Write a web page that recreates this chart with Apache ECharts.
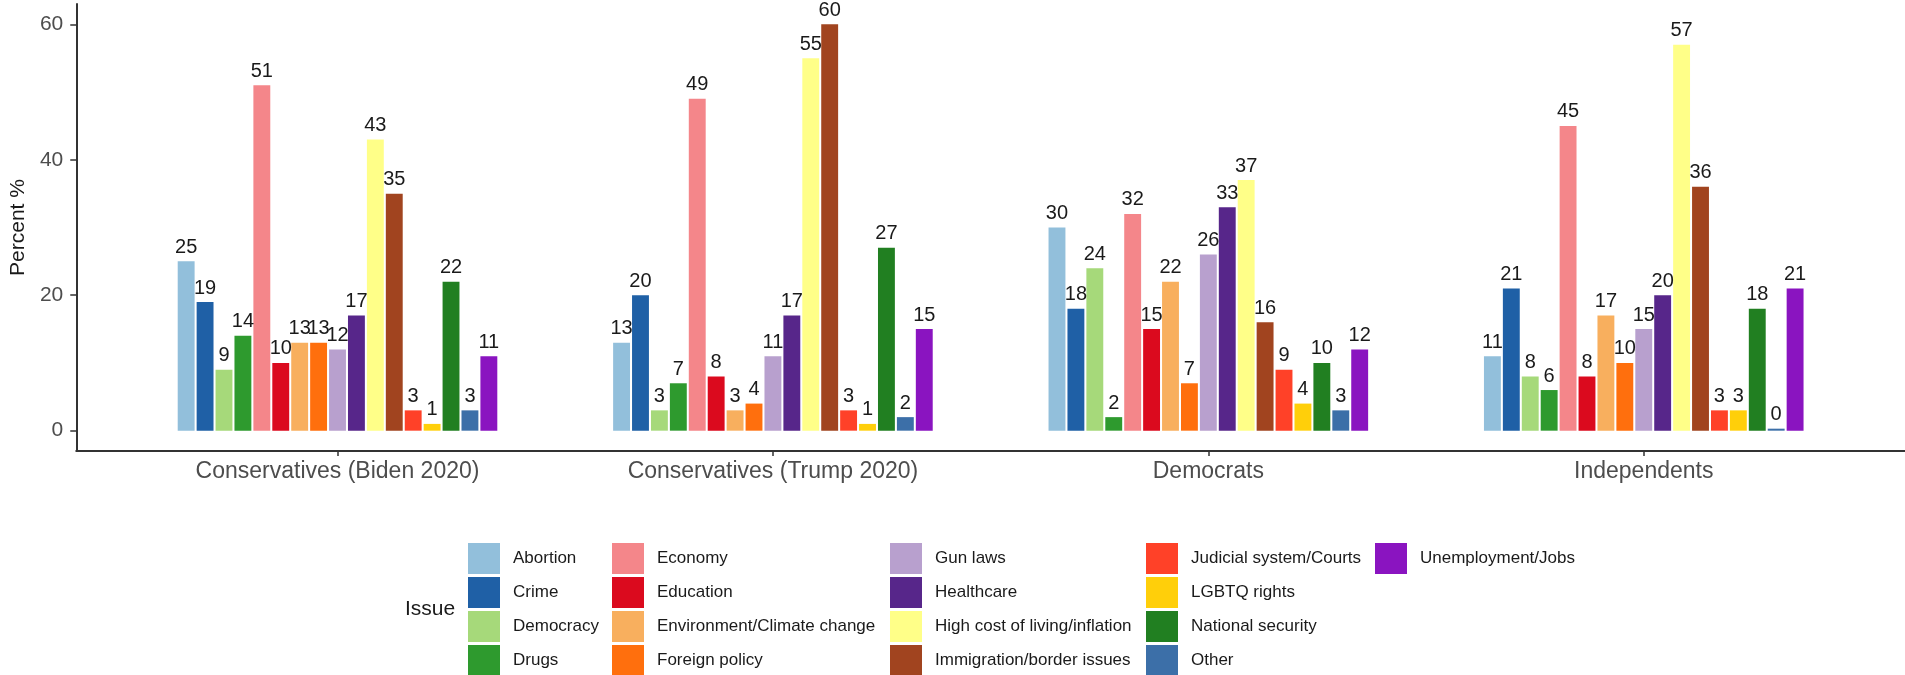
<!DOCTYPE html>
<html>
<head>
<meta charset="utf-8">
<script src="https://cdn.jsdelivr.net/npm/echarts@6/dist/echarts.min.js"></script>
<style>
html,body{margin:0;padding:0;background:#fff;}
#chart{width:1905px;height:675px;}
</style>
</head>
<body>
<div id="chart"></div>
<script>
// ---- Data ----
const groups = ['Conservatives (Biden 2020)', 'Conservatives (Trump 2020)', 'Democrats', 'Independents'];
const issues = ['Abortion', 'Crime', 'Democracy', 'Drugs', 'Economy', 'Education',
  'Environment/Climate change', 'Foreign policy', 'Gun laws', 'Healthcare',
  'High cost of living/inflation', 'Immigration/border issues', 'Judicial system/Courts',
  'LGBTQ rights', 'National security', 'Other', 'Unemployment/Jobs'];
const bidenConservatives = [25, 19, 9, 14, 51, 10, 13, 13, 12, 17, 43, 35, 3, 1, 22, 3, 11];
const trumpConservatives = [13, 20, 3, 7, 49, 8, 3, 4, 11, 17, 55, 60, 3, 1, 27, 2, 15];
const democrats          = [30, 18, 24, 2, 32, 15, 22, 7, 26, 33, 37, 16, 9, 4, 10, 3, 12];
const independents       = [11, 21, 8, 6, 45, 8, 17, 10, 15, 20, 57, 36, 3, 3, 18, 0, 21];
const yTicks = [0, 20, 40, 60];
const colors = ['#92BFDB', '#1F60A6', '#A6D97A', '#2E9A2E', '#F4868A', '#DB0A1E',
  '#F8AF5E', '#FF6F0D', '#B8A0CE', '#57268A', '#FFFF88', '#A1441F', '#FF4128',
  '#FFCF0A', '#217F21', '#3C6FA8', '#8A14C0'];

const groupValues = [bidenConservatives, trumpConservatives, democrats, independents];
const groupPos = groups.map((g, i) => i + 1);

const font = "'Liberation Sans', Arial, Helvetica, sans-serif";

const series = issues.map((name, k) => ({
  name: name,
  type: 'bar',
  data: groupPos.map((x, gi) => [x, groupValues[gi][k]]),
  itemStyle: { color: colors[k] },
  barGap: '12%',
  barCategoryGap: '26.6%',
  barMinHeight: 2,
  label: {
    show: true,
    position: 'top',
    distance: 4,
    fontSize: 20,
    fontFamily: font,
    color: '#1a1a1a',
    formatter: p => String(p.value[1])
  }
}));

// legend columns (4 rows each)
const legendCols = [468, 612, 890, 1146, 1375];
const legends = legendCols.map((left, c) => ({
  orient: 'vertical',
  left: left,
  top: 543,
  height: 300,
  itemWidth: 32,
  itemHeight: 31,
  itemGap: 3,
  icon: 'rect',
  selectedMode: false,
  padding: 0,
  textStyle: { fontSize: 17, fontFamily: font, color: '#1a1a1a', padding: [0, 0, 0, 8] },
  data: issues.slice(c * 4, c * 4 + 4)
}));

const chart = echarts.init(document.getElementById('chart'), null, { renderer: 'canvas' });
chart.setOption({
  animation: false,
  backgroundColor: '#fff',
  color: colors,
  textStyle: { fontFamily: font },
  title: {
    text: 'Issue',
    left: 405,
    top: 599,
    padding: 0,
    textStyle: { fontSize: 21, fontWeight: 'normal', fontFamily: font, color: '#1a1a1a' }
  },
  legend: legends,
  grid: { left: 71, top: 4, width: 1839, height: 447 },
  xAxis: {
    type: 'value',
    min: 0.4,
    max: 4.6,
    splitLine: { show: false },
    axisLine: { show: true, onZero: false, lineStyle: { color: '#333', width: 2 } },
    axisTick: { show: true, customValues: groupPos, length: 5, lineStyle: { color: '#333', width: 1.5 } },
    axisLabel: {
      customValues: groupPos,
      margin: 9,
      fontSize: 23,
      fontFamily: font,
      color: '#4d4d4d',
      formatter: v => groups[Math.round(v) - 1] || ''
    }
  },
  yAxis: {
    type: 'value',
    min: -3,
    max: 63,
    name: 'Percent %',
    nameLocation: 'middle',
    nameGap: 42,
    nameRotate: 90,
    nameTextStyle: { fontSize: 21, fontFamily: font, color: '#1a1a1a' },
    splitLine: { show: false },
    axisLine: { show: true, onZero: false, lineStyle: { color: '#333', width: 2 } },
    axisTick: { show: true, customValues: yTicks, length: 6, lineStyle: { color: '#333', width: 1.5 } },
    axisLabel: {
      customValues: yTicks,
      margin: 13,
      fontSize: 21,
      fontFamily: font,
      color: '#4d4d4d'
    }
  },
  series: series
});
</script>
</body>
</html>
